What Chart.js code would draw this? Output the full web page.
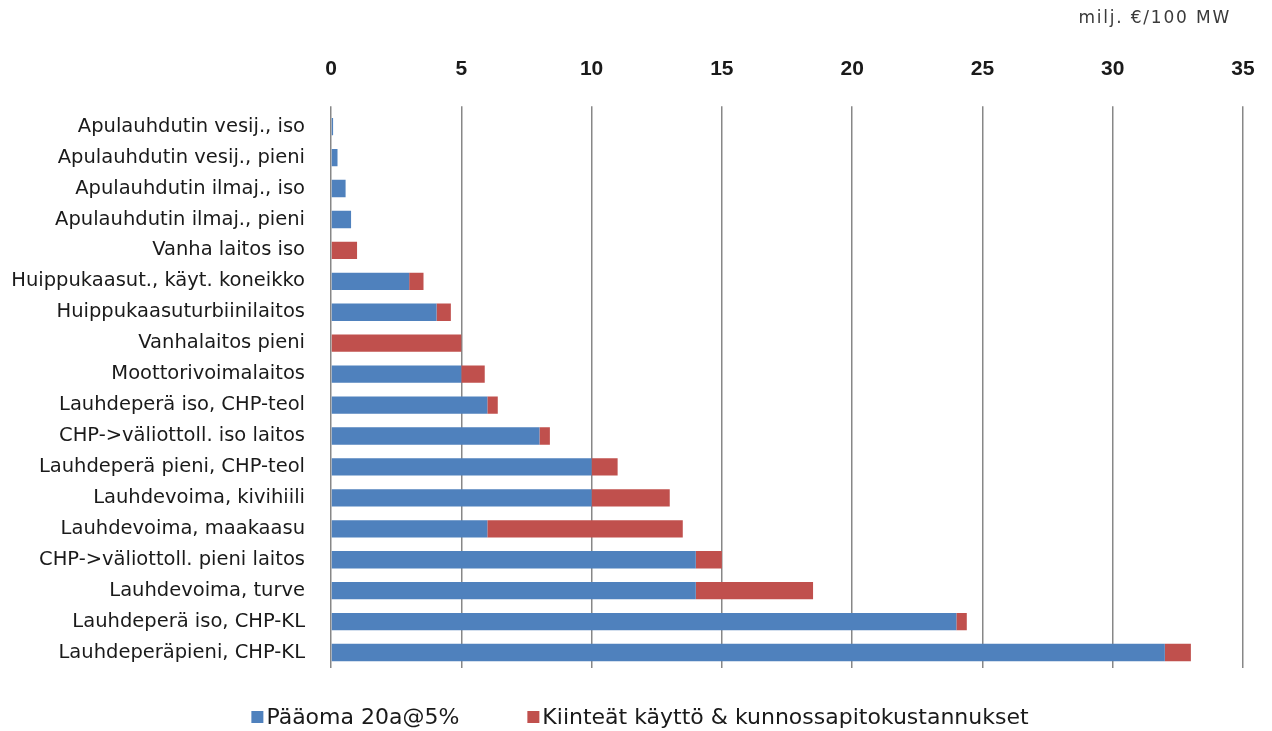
<!DOCTYPE html>
<html>
<head>
<meta charset="utf-8">
<script src="https://cdn.jsdelivr.net/npm/chart.js@4.4.1/dist/chart.umd.min.js"></script>
<style>
  html, body { margin: 0; padding: 0; background: #ffffff; }
  #wrap { width: 1272px; height: 731px; position: relative; }
</style>
</head>
<body>
<div id="wrap"><canvas id="c" width="1272" height="731"></canvas></div>
<script>
// Plant types (top to bottom)
const categories = [
  "Apulauhdutin vesij., iso",
  "Apulauhdutin vesij., pieni",
  "Apulauhdutin ilmaj., iso",
  "Apulauhdutin ilmaj., pieni",
  "Vanha laitos iso",
  "Huippukaasut., käyt. koneikko",
  "Huippukaasuturbiinilaitos",
  "Vanhalaitos pieni",
  "Moottorivoimalaitos",
  "Lauhdeperä iso, CHP-teol",
  "CHP->väliottoll. iso laitos",
  "Lauhdeperä pieni, CHP-teol",
  "Lauhdevoima, kivihiili",
  "Lauhdevoima, maakaasu",
  "CHP->väliottoll. pieni laitos",
  "Lauhdevoima, turve",
  "Lauhdeperä iso, CHP-KL",
  "Lauhdeperäpieni, CHP-KL"
];

// Capital cost, 20 years @ 5 % (milj. €/100 MW)
const capital = [0.08, 0.25, 0.56, 0.77, 0, 3.0, 4.05, 0, 5.0, 6.0, 8.0, 10.0, 10.0, 6.0, 14.0, 14.0, 24.0, 32.0];

// Fixed operation & maintenance costs (milj. €/100 MW)
const fixedOM = [0, 0, 0, 0, 1.0, 0.55, 0.55, 5.0, 0.9, 0.4, 0.4, 1.0, 3.0, 7.5, 1.0, 4.5, 0.4, 1.0];

const seriesNames = ["Pääoma 20a@5%", "Kiinteät käyttö & kunnossapitokustannukset"];
const seriesColors = ["#4f81bd", "#c0504d"];
const xTicks = [0, 5, 10, 15, 20, 25, 30, 35];
const unitLabel = "milj. €/100 MW";

// Unit text in the top right corner and the legend row under the plot
const extrasPlugin = {
  id: "extras",
  afterDraw(chart) {
    const ctx = chart.ctx;
    ctx.save();

    ctx.font = "17px 'DejaVu Sans'";
    ctx.letterSpacing = "1.8px";
    ctx.fillStyle = "#3a3a3a";
    ctx.textAlign = "right";
    ctx.textBaseline = "middle";
    ctx.fillText(unitLabel, chart.chartArea.right - 12, 19);
    ctx.letterSpacing = "0px";

    // legend
    ctx.font = "22px 'DejaVu Sans'";
    ctx.textAlign = "left";
    const box = 12, boxGap = 3, itemGap = 68;
    const widths = chart.data.datasets.map(ds => ctx.measureText(ds.label).width);
    let total = 0;
    widths.forEach((w, i) => { total += box + boxGap + w + (i ? itemGap : 0); });
    let x = chart.width / 2 + 4 - total / 2;
    const y = 717;
    chart.data.datasets.forEach((ds, i) => {
      ctx.fillStyle = ds.backgroundColor;
      ctx.fillRect(x, y - box / 2, box, box);
      x += box + boxGap;
      ctx.fillStyle = "#1a1a1a";
      ctx.fillText(ds.label, x, y + 1);
      x += widths[i] + itemGap;
    });
    ctx.restore();
  }
};

new Chart(document.getElementById("c"), {
  type: "bar",
  data: {
    labels: categories,
    datasets: [
      {
        label: seriesNames[0],
        data: capital,
        backgroundColor: seriesColors[0],
        borderWidth: 0,
        barPercentage: 0.56,
        categoryPercentage: 1.0
      },
      {
        label: seriesNames[1],
        data: fixedOM,
        backgroundColor: seriesColors[1],
        borderWidth: 0,
        barPercentage: 0.56,
        categoryPercentage: 1.0
      }
    ]
  },
  options: {
    indexAxis: "y",
    responsive: false,
    animation: false,
    layout: { padding: { top: 33, right: 0, left: 0, bottom: 63 } },
    scales: {
      x: {
        position: "top",
        stacked: true,
        min: 0,
        max: 35,
        afterBuildTicks(axis) {
          axis.ticks = xTicks.map(v => ({ value: v }));
        },
        afterFit(scale) { scale.paddingRight = 29; },
        grid: {
          color: "#878787",
          lineWidth: 1.5,
          drawTicks: true,
          tickLength: 5,
          tickColor: "#878787"
        },
        border: { display: false },
        ticks: {
          padding: 24,
          color: "#1a1a1a",
          font: { family: "'Liberation Sans', sans-serif", size: 21, weight: "bold" }
        }
      },
      y: {
        stacked: true,
        afterFit(scale) { scale.width = 331; },
        grid: { display: false, drawTicks: false },
        border: { display: false },
        ticks: {
          padding: 26,
          color: "#1a1a1a",
          autoSkip: false,
          font: { family: "'DejaVu Sans'", size: 19.5 }
        }
      }
    },
    plugins: {
      legend: { display: false },
      tooltip: { enabled: false }
    }
  },
  plugins: [extrasPlugin]
});
</script>
</body>
</html>
